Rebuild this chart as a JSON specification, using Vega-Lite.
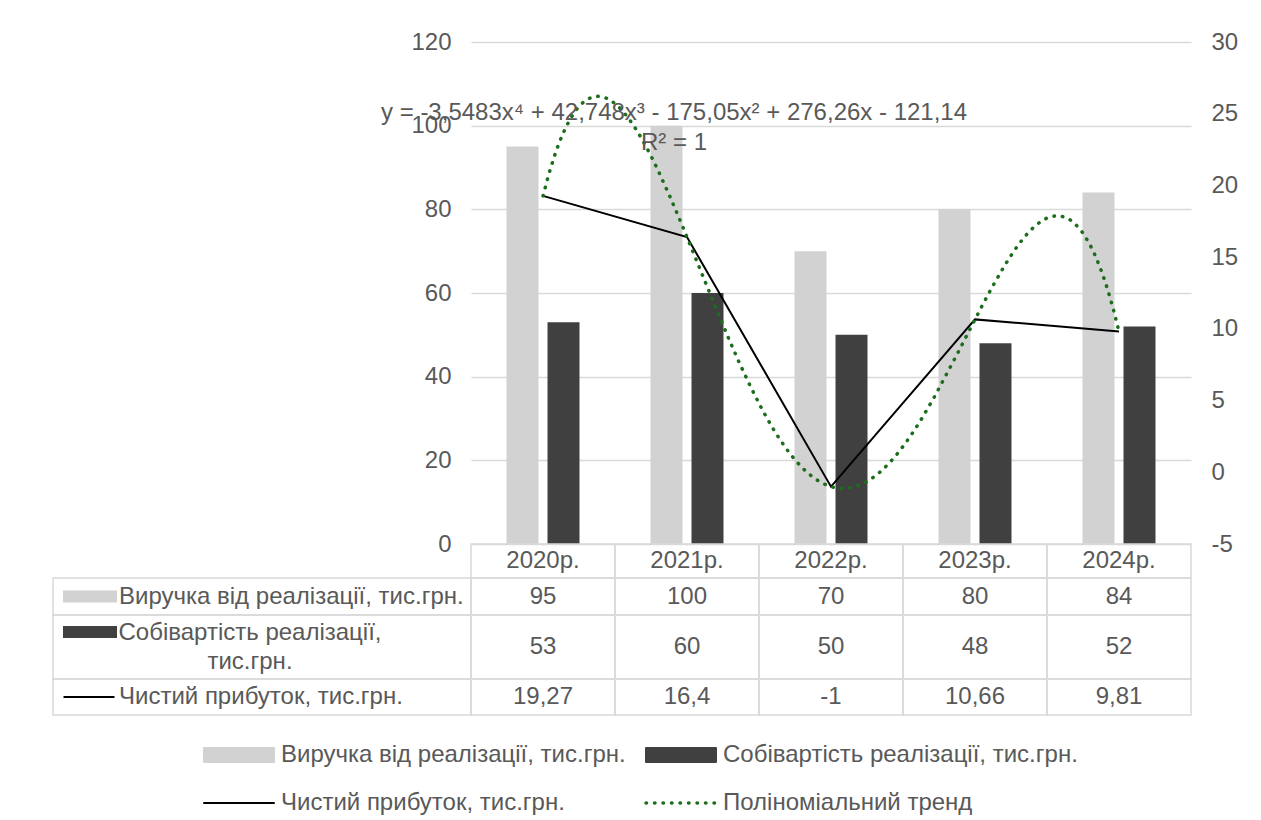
{
  "$schema": "https://vega.github.io/schema/vega-lite/v6.json",
  "padding": {"left": 52, "top": 30, "right": 5, "bottom": 5},
  "background": "white",
  "config": {
    "font": "Liberation Sans",
    "view": {"stroke": null},
    "locale": {"number": {"decimal": ",", "thousands": " ", "grouping": [3], "currency": ["", ""], "minus": "-"}},
    "axis": {"labelFont": "Liberation Sans", "labelFontSize": 24, "labelColor": "#595959", "domain": false, "ticks": false, "title": null, "labelPadding": 20, "gridColor": "#d9d9d9", "gridWidth": 1.5},
    "text": {"font": "Liberation Sans", "fontSize": 24, "color": "#595959"}
  },
  "datasets": {
    "bars": [
      {"year": "2020р.", "series": "Виручка від реалізації, тис.грн.", "value": 95},
      {"year": "2021р.", "series": "Виручка від реалізації, тис.грн.", "value": 100},
      {"year": "2022р.", "series": "Виручка від реалізації, тис.грн.", "value": 70},
      {"year": "2023р.", "series": "Виручка від реалізації, тис.грн.", "value": 80},
      {"year": "2024р.", "series": "Виручка від реалізації, тис.грн.", "value": 84},
      {"year": "2020р.", "series": "Собівартість реалізації, тис.грн.", "value": 53},
      {"year": "2021р.", "series": "Собівартість реалізації, тис.грн.", "value": 60},
      {"year": "2022р.", "series": "Собівартість реалізації, тис.грн.", "value": 50},
      {"year": "2023р.", "series": "Собівартість реалізації, тис.грн.", "value": 48},
      {"year": "2024р.", "series": "Собівартість реалізації, тис.грн.", "value": 52}
    ],
    "profit": [
      {"year": "2020р.", "n": 1, "profit": 19.27},
      {"year": "2021р.", "n": 2, "profit": 16.4},
      {"year": "2022р.", "n": 3, "profit": -1},
      {"year": "2023р.", "n": 4, "profit": 10.66},
      {"year": "2024р.", "n": 5, "profit": 9.81}
    ]
  },
  "columns": 2,
  "spacing": 0,
  "bounds": "flush",
  "concat": [
    {"width": 418, "height": 502, "data": {"values": [{}]}, "mark": {"type": "text", "text": ""}},
    {
      "width": 720,
      "height": 502,
      "layer": [
        {
          "data": {"name": "bars"},
          "mark": {"type": "bar"},
          "encoding": {
            "x": {"field": "year", "type": "nominal", "scale": {"paddingInner": 0.493, "paddingOuter": 0.2465}, "axis": null},
            "xOffset": {"field": "series", "type": "nominal", "scale": {"domain": ["Виручка від реалізації, тис.грн.", "Собівартість реалізації, тис.грн."], "paddingInner": 0.22, "paddingOuter": 0}},
            "y": {"field": "value", "type": "quantitative", "scale": {"domain": [0, 120], "nice": false}, "axis": {"orient": "left", "values": [0, 20, 40, 60, 80, 100, 120], "grid": true}},
            "color": {
              "field": "series",
              "type": "nominal",
              "scale": {
                "domain": ["Виручка від реалізації, тис.грн.", "Собівартість реалізації, тис.грн.", "Чистий прибуток, тис.грн.", "Поліноміальний тренд"],
                "range": ["#d2d2d2", "#404040", "#000000", "#1c6d1c"]
              },
              "legend": {
                "orient": "none",
                "legendX": 150,
                "legendY": 677,
                "direction": "horizontal",
                "columns": 2,
                "title": null,
                "labelFont": "Liberation Sans",
                "labelFontSize": 24,
                "labelColor": "#595959",
                "labelLimit": 0,
                "labelOffset": 6,
                "columnPadding": 13,
                "rowPadding": -36,
                "symbolSize": 4900,
                "symbolStrokeWidth": 2,
                "encode": {
                  "symbols": {
                    "update": {
                      "shape": {"signal": "(indexof(['Виручка від реалізації, тис.грн.', 'Собівартість реалізації, тис.грн.'], datum.value) >= 0 ? 'M-1,-0.2H1V0.2H-1Z' : 'stroke')"},
                      "fill": {"signal": "(datum.value === 'Виручка від реалізації, тис.грн.' ? '#d2d2d2' : datum.value === 'Собівартість реалізації, тис.грн.' ? '#404040' : 'transparent')"},
                      "stroke": {"signal": "(datum.value === 'Чистий прибуток, тис.грн.' ? '#000000' : datum.value === 'Поліноміальний тренд' ? '#1c6d1c' : 'transparent')"},
                      "strokeDash": {"signal": "(datum.value === 'Поліноміальний тренд' ? [0.5, 8] : [1, 0])"},
                      "strokeWidth": {"signal": "(datum.value === 'Поліноміальний тренд' ? 3.5 : 2)"},
                      "strokeCap": {"value": "round"},
                      "opacity": {"value": 1}
                    }
                  }
                }
              }
            }
          }
        },
        {
          "data": {"name": "profit"},
          "layer": [
            {
              "mark": {"type": "line", "strokeWidth": 2},
              "encoding": {
                "x": {"field": "n", "type": "quantitative", "scale": {"domain": [0.5, 5.5], "nice": false, "zero": false}, "axis": null},
                "y": {"field": "profit", "type": "quantitative", "scale": {"domain": [-5, 30], "nice": false, "zero": false}, "axis": {"orient": "right", "values": [-5, 0, 5, 10, 15, 20, 25, 30], "grid": false}},
                "color": {"datum": "Чистий прибуток, тис.грн.", "type": "nominal"}
              }
            },
            {
              "transform": [{"regression": "profit", "on": "n", "method": "poly", "order": 4, "extent": [1, 5]}],
              "mark": {"type": "line", "strokeWidth": 3.5, "strokeDash": [0.5, 8], "strokeCap": "round"},
              "encoding": {
                "x": {"field": "n", "type": "quantitative"},
                "y": {"field": "profit", "type": "quantitative"},
                "color": {"datum": "Поліноміальний тренд", "type": "nominal"}
              }
            },
            {
              "data": {"values": [{}]},
              "mark": {"type": "text", "text": "y = -3,5483x⁴ + 42,748x³ - 175,05x² + 276,26x - 121,14"},
              "encoding": {"x": {"datum": 1.91}, "y": {"datum": 25.05}}
            },
            {
              "data": {"values": [{}]},
              "mark": {"type": "text", "text": "R² = 1"},
              "encoding": {"x": {"datum": 1.91}, "y": {"datum": 22.96}}
            }
          ]
        }
      ],
      "resolve": {"scale": {"x": "independent", "y": "independent"}}
    },
    {"width": 418, "height": 34, "data": {"values": [{}]}, "mark": {"type": "text", "text": ""}},
    {
      "width": 720, "height": 34,
      "data": {"name": "profit"},
      "layer": [
        {"mark": {"type": "rect", "fill": "transparent", "stroke": "#d9d9d9", "strokeWidth": 1.5},
         "encoding": {"x": {"field": "year", "type": "nominal", "axis": null}, "y": {"datum": "h", "type": "nominal", "axis": null}}},
        {"mark": {"type": "text"},
         "encoding": {"x": {"field": "year", "type": "nominal", "axis": null}, "text": {"field": "year"}}}
      ]
    },
    {
      "width": 418, "height": 37,
      "data": {"values": [{}]},
      "layer": [
        {"mark": {"type": "rect", "fill": "transparent", "stroke": "#d9d9d9", "strokeWidth": 1.5},
         "encoding": {"x": {"datum": "a", "type": "nominal", "axis": null}, "y": {"datum": "a", "type": "nominal", "axis": null}}},
        {"mark": {"type": "point", "shape": "M-1,-0.22H1V0.22H-1Z", "size": 2916, "filled": true, "color": "#d2d2d2", "opacity": 1, "xOffset": -172}, "encoding": {}},
        {"mark": {"type": "text", "align": "left", "dx": -143, "text": "Виручка від реалізації, тис.грн."}, "encoding": {}}
      ]
    },
    {
      "width": 720, "height": 37,
      "data": {"name": "bars"},
      "transform": [{"filter": "datum.series === 'Виручка від реалізації, тис.грн.'"}],
      "layer": [
        {"mark": {"type": "rect", "fill": "transparent", "stroke": "#d9d9d9", "strokeWidth": 1.5},
         "encoding": {"x": {"field": "year", "type": "nominal", "axis": null}, "y": {"datum": "h", "type": "nominal", "axis": null}}},
        {"mark": {"type": "text"},
         "encoding": {"x": {"field": "year", "type": "nominal", "axis": null}, "text": {"field": "value", "type": "quantitative", "format": "~f"}}}
      ]
    },
    {
      "width": 418, "height": 64,
      "data": {"values": [{}]},
      "layer": [
        {"mark": {"type": "rect", "fill": "transparent", "stroke": "#d9d9d9", "strokeWidth": 1.5},
         "encoding": {"x": {"datum": "a", "type": "nominal", "axis": null}, "y": {"datum": "a", "type": "nominal", "axis": null}}},
        {"mark": {"type": "point", "shape": "M-1,-0.22H1V0.22H-1Z", "size": 2916, "filled": true, "color": "#404040", "opacity": 1, "xOffset": -172, "yOffset": -15}, "encoding": {}},
        {"mark": {"type": "text", "align": "center", "dx": -12, "dy": -14.5, "lineHeight": 29, "text": ["Собівартість реалізації,", "тис.грн."]}, "encoding": {}}
      ]
    },
    {
      "width": 720, "height": 64,
      "data": {"name": "bars"},
      "transform": [{"filter": "datum.series === 'Собівартість реалізації, тис.грн.'"}],
      "layer": [
        {"mark": {"type": "rect", "fill": "transparent", "stroke": "#d9d9d9", "strokeWidth": 1.5},
         "encoding": {"x": {"field": "year", "type": "nominal", "axis": null}, "y": {"datum": "h", "type": "nominal", "axis": null}}},
        {"mark": {"type": "text"},
         "encoding": {"x": {"field": "year", "type": "nominal", "axis": null}, "text": {"field": "value", "type": "quantitative", "format": "~f"}}}
      ]
    },
    {
      "width": 418, "height": 36,
      "data": {"values": [{}]},
      "layer": [
        {"mark": {"type": "rect", "fill": "transparent", "stroke": "#d9d9d9", "strokeWidth": 1.5},
         "encoding": {"x": {"datum": "a", "type": "nominal", "axis": null}, "y": {"datum": "a", "type": "nominal", "axis": null}}},
        {"mark": {"type": "point", "shape": "stroke", "size": 2601, "filled": false, "color": "#000000", "strokeWidth": 2, "opacity": 1, "xOffset": -173}, "encoding": {}},
        {"mark": {"type": "text", "align": "left", "dx": -143, "text": "Чистий прибуток, тис.грн."}, "encoding": {}}
      ]
    },
    {
      "width": 720, "height": 36,
      "data": {"name": "profit"},
      "layer": [
        {"mark": {"type": "rect", "fill": "transparent", "stroke": "#d9d9d9", "strokeWidth": 1.5},
         "encoding": {"x": {"field": "year", "type": "nominal", "axis": null}, "y": {"datum": "h", "type": "nominal", "axis": null}}},
        {"mark": {"type": "text"},
         "encoding": {"x": {"field": "year", "type": "nominal", "axis": null}, "text": {"field": "profit", "type": "quantitative", "format": "~f"}}}
      ]
    }
  ]
}
